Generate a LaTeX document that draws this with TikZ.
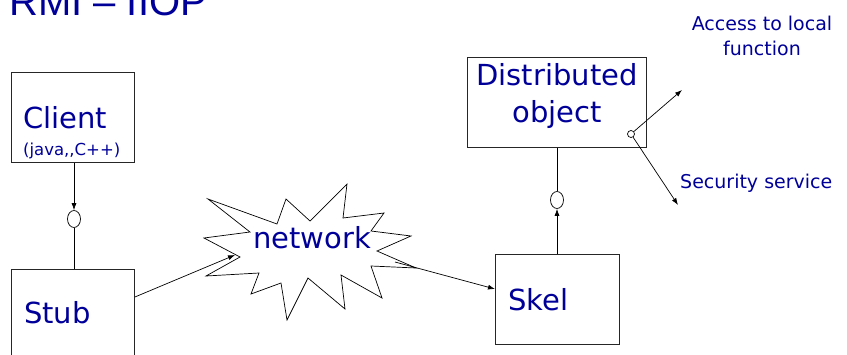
\documentclass[tikz,border=0pt]{standalone}
\usepackage{fontspec}
\setmainfont{DejaVu Sans}
\newfontfamily\titlefont{Liberation Sans}
\usetikzlibrary{arrows.meta,shapes.geometric,calc}
\definecolor{txtblue}{RGB}{0,0,153}
\begin{document}
\begin{tikzpicture}[x=1pt,y=-1pt,
  box/.style={draw=black!85,line width=0.9pt,rectangle,inner sep=0pt,anchor=north west},
  lbl/.style={text=txtblue,inner sep=0pt,font=\fontsize{29}{34}\selectfont},
  sublbl/.style={text=txtblue,inner sep=0pt,font=\fontsize{16.5}{19}\selectfont},
  small/.style={text=txtblue,inner sep=0pt,font=\fontsize{19}{23}\selectfont},
  con/.style={line width=0.7pt},
  tip/.style={-{Latex[length=7pt,width=5pt]}},
  iface/.style={draw,ellipse,line width=0.7pt,minimum width=13pt,minimum height=17pt,inner sep=0pt}]
\useasboundingbox (0,0) rectangle (847,354);
% title
\node[text=txtblue,font=\titlefont\fontsize{40}{48}\selectfont,anchor=base west,inner sep=0pt] (title) at (9,15) {RMI – IIOP};
% boxes
\node[box,minimum width=123pt,minimum height=90pt] (client) at (11,72) {};
\node[box,minimum width=123pt,minimum height=89pt] (stub) at (11,269) {};
\node[box,minimum width=124pt,minimum height=90pt] (skel) at (495,254) {};
\node[box,minimum width=179pt,minimum height=90pt] (dist) at (467,57) {};
% box texts
\node[lbl,anchor=base west] (clienttxt) at (23,128) {Client};
\node[sublbl,anchor=base west] (clientsub) at (23,155) {(java{,}{,}C++)};
\node[lbl,anchor=base west] (stubtxt) at (24,323) {Stub};
\node[lbl,anchor=base west] (skeltxt) at (508,310) {Skel};
\node[lbl,anchor=base] (disttxt1) at (557,85) {Distributed};
\node[lbl,anchor=base] (disttxt2) at (557,122) {object};
% network star
\draw[line width=0.7pt,fill=white] (208,199) -- (277,224) -- (286,199) -- (310,221) -- (347,184)
  -- (343,218) -- (384,213) -- (371,231) -- (411,236) -- (377,251) -- (416,268) -- (371,266)
  -- (382,298) -- (341,275) -- (345,309) -- (308,278) -- (287,320) -- (281,283) -- (251,294)
  -- (259,273) -- (206,276) -- (240,257) -- (204,238) -- (250,232) -- cycle;
\node[lbl,anchor=base] (nettxt) at (312,248) {network};
% interfaces
\node[iface] (c1) at (74,219) {};
\node[iface] (c2) at (557,200) {};
\draw[con,tip] (client.south -| c1) -- (c1.north);
\draw[con] (c1.south) -- (stub.north -| c1);
\draw[con,tip] (skel.north -| c2) -- (c2.south);
\draw[con] (c2.north) -- (dist.south -| c2);
% network arrows
\coordinate (netin) at (235,255);
\coordinate (netout) at (395,262);
\draw[con,tip] ([yshift=-28pt]stub.north east) -- (netin);
\draw[con,tip] (netout) -- ([yshift=-35pt]skel.north west);
% local services
\node[draw,circle,minimum size=7pt,inner sep=0pt,line width=0.7pt] (sc) at (631,134) {};
\coordinate (accpt) at (682,90);
\coordinate (secpt) at (678,205);
\draw[con,tip] (sc) -- (accpt);
\draw[con,tip] (sc) -- (secpt);
\node[small,anchor=base] (acc1) at (762,30) {Access to local};
\node[small,anchor=base] (acc2) at (762,55) {function};
\node[small,anchor=base west] (sec) at (680,188) {Security service};
\end{tikzpicture}
\end{document}
